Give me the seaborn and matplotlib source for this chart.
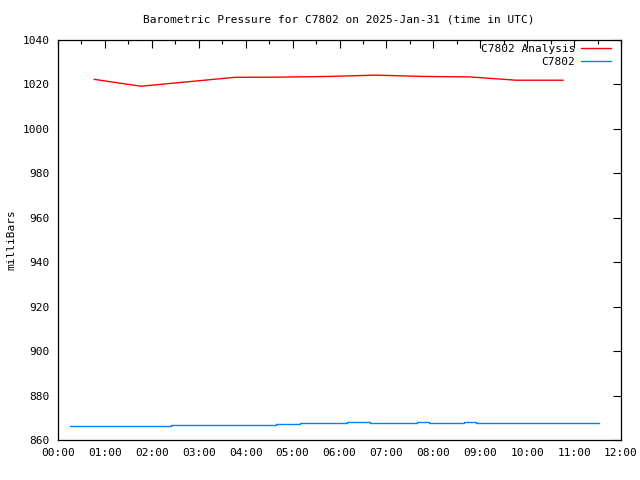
import matplotlib
matplotlib.use("Agg")
import matplotlib.pyplot as plt
from matplotlib.ticker import MultipleLocator, FuncFormatter
import seaborn as sns
import pandas as pd

# Data (hours after 00:00 UTC, millibars)
analysis_hours = [0.77, 1.77, 2.77, 3.77, 4.77, 5.77, 6.77, 7.77, 8.77, 9.77, 10.77]
analysis_mb = [1022.3, 1019.2, 1021.2, 1023.2, 1023.3, 1023.6, 1024.2, 1023.6, 1023.4, 1021.9, 1021.9]

station_hours = [0.26, 2.40, 4.65, 5.16, 6.15, 6.64, 7.65, 7.90, 8.66, 8.92, 11.54]
station_mb = [866.3, 866.75, 867.2, 867.65, 868.1, 867.65, 868.1, 867.65, 868.1, 867.65, 867.65]

x_tick_labels = [f"{h:02d}:00" for h in range(0, 13)]

title = "Barometric Pressure for C7802 on 2025-Jan-31 (time in UTC)"

sns.set_style("white")
plt.rcParams['font.family'] = ['DejaVu Sans Mono', 'DejaVu Sans']
plt.rcParams['text.color'] = 'black'
plt.rcParams['axes.labelcolor'] = 'black'

fig = plt.figure(figsize=(6.4, 4.8), dpi=100)
ax = fig.add_axes([58/640, 1 - 440/480, (621-58)/640, 400/480])

df_a = pd.DataFrame({"hour": analysis_hours, "mb": analysis_mb})
df_s = pd.DataFrame({"hour": station_hours, "mb": station_mb})

sns.lineplot(data=df_a, x="hour", y="mb", ax=ax, color="#ff0000", lw=1.0,
             label="C7802 Analysis")
sns.lineplot(data=df_s, x="hour", y="mb", ax=ax, color="#0080ff", lw=1.0,
             drawstyle="steps-post", label="C7802")

ax.set_xlim(0, 12)
ax.set_ylim(860, 1040)
ax.xaxis.set_major_locator(MultipleLocator(1))
ax.xaxis.set_minor_locator(MultipleLocator(0.5))
ax.yaxis.set_major_locator(MultipleLocator(20))
ax.xaxis.set_major_formatter(FuncFormatter(lambda v, p: x_tick_labels[int(round(v))] if 0 <= round(v) <= 12 else ""))

ax.tick_params(axis="both", which="both", direction="in", top=True, right=True,
               labelsize=8, colors="black", pad=6)
ax.tick_params(axis="both", which="major", length=6, width=0.8)
ax.tick_params(axis="both", which="minor", length=3, width=0.8)

for s in ax.spines.values():
    s.set_color("black")
    s.set_linewidth(0.9)

ax.set_xlabel("")
ax.set_ylabel("")
fig.text(11/640, 1 - 240/480, "milliBars", rotation=90, ha="center", va="center",
         fontsize=8, color="black")
fig.text(339/640, 1 - 19/480, title, ha="center", va="center", fontsize=8, color="black")

leg = ax.legend(loc="upper right", frameon=False, markerfirst=False, fontsize=8,
                handlelength=2.7, handletextpad=0.5, labelspacing=0.3,
                borderaxespad=0.0, borderpad=0.0,
                bbox_to_anchor=(611/640, 1 - 44/480), bbox_transform=fig.transFigure)
for t in leg.get_texts():
    t.set_color("black")

fig.savefig("out.png", dpi=100)
